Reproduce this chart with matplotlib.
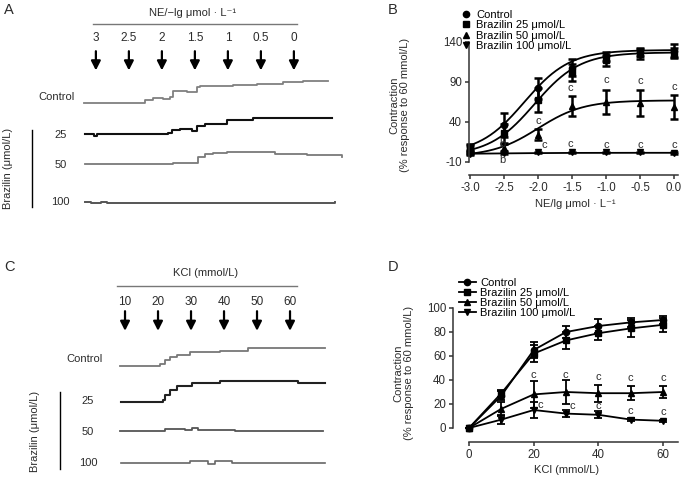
import numpy as np
import matplotlib
matplotlib.use('Agg')
import matplotlib.pyplot as plt
from matplotlib.lines import Line2D

plt.rcParams['font.family'] = ['Liberation Sans', 'DejaVu Sans']
plt.rcParams['axes.unicode_minus'] = False

TXT = '#2b2b2b'
FS = 8

# ---------------- Panel A: NE isometric tension traces ----------------
# time in min, tension in arbitrary units (relative to each trace's baseline)
ne_doses = ['3', '2.5', '2', '1.5', '1', '0.5', '0']
ne_dose_times = [1.8, 6.8, 11.8, 16.8, 21.8, 26.8, 31.8]

a_ctrl_t = [0, 9.2, 10.5, 12.0, 13.0, 13.5, 15.6, 17.1, 17.6, 22.6, 26.2, 30.2, 33.2, 37.0]
a_ctrl_v = [0, 0.75, 1.25, 1.0, 1.5, 3.0, 2.75, 4.0, 4.25, 4.5, 4.75, 5.25, 5.5, 5.5]
a_25_t = [0.15, 1.5, 2.0, 12.7, 13.3, 14.5, 16.4, 17.1, 18.3, 21.7, 25.6, 37.6]
a_25_v = [0, -0.5, 0, 0.25, 1.0, 1.25, 0.75, 2.0, 2.5, 3.5, 4.0, 4.0]
a_50_t = [0.15, 13.5, 17.3, 18.3, 19.5, 21.7, 28.9, 33.2, 33.8, 39.1]
a_50_v = [0, 0.25, 1.75, 2.5, 2.75, 3.0, 2.5, 2.5, 2.25, 1.75]
a_100_t = [0.15, 1.0, 2.5, 3.5, 38.0]
a_100_v = [0, -0.25, 0, -0.2, 0]

# ---------------- Panel C: KCl isometric tension traces ----------------
kcl_doses = ['10', '20', '30', '40', '50', '60']
kcl_dose_times = [0.76, 5.76, 10.76, 15.76, 20.76, 25.76]

c_ctrl_t = [0, 6.06, 6.8, 7.6, 8.6, 10.6, 15.2, 19.4, 31.1]
c_ctrl_v = [0, 0.5, 1.5, 2.25, 2.75, 3.5, 3.75, 4.5, 4.5]
c_25_t = [0.15, 6.5, 6.8, 7.6, 8.6, 10.9, 15.2, 27.0, 31.1]
c_25_v = [0, 0.5, 1.75, 3.0, 4.0, 4.75, 5.25, 4.75, 4.75]
c_50_t = [0, 6.8, 9.8, 10.9, 11.8, 17.4, 30.8]
c_50_v = [0, 0.5, 0.25, 0.75, 0.25, 0, 0]
c_100_t = [0.15, 10.6, 13.3, 14.4, 17.0, 31.1]
c_100_v = [0, 0.5, -0.17, 0.5, 0, 0]

# ---------------- Panel B: NE concentration-response ----------------
ne_log = [-3.0, -2.5, -2.0, -1.5, -1.0, -0.5, 0.0]
b_ctrl = [9, 36, 82, 108, 122, 128, 129]
b_ctrl_err = [4, 15, 13, 11, 6, 5, 8]
b_25 = [7, 26, 68, 102, 117, 125, 126]
b_25_err = [4, 12, 15, 11, 7, 6, 6]
b_50 = [2, 8, 24, 60, 65, 64, 59]
b_50_err = [2, 4, 7, 12, 15, 16, 15]
b_100 = [0, 1, 2, 2, 2, 2, 1]
b_100_err = [1, 1, 1, 1, 1, 1, 1]
# fitted sigmoid parameters: bottom, top, logEC50, hill slope
b_fit_ctrl = [0, 130, -2.2, 1.3]
b_fit_25 = [-2, 127, -2.05, 1.3]
b_fit_50 = [-3, 67, -2.0, 1.3]
b_fit_100 = [0, 1.5, -2.5, 1.0]
b_sig_x = [-2.0, -1.91, -1.52, -1.52, -1.0, -1.0, -0.5, -0.5, 0.0, 0.0, -2.53, -2.53]
b_sig_y = [41, 11, 82, 13, 92, 11, 91, 11, 84, 11, -8, 13]
b_sig_t = ['c', 'c', 'c', 'c', 'c', 'c', 'c', 'c', 'c', 'c', 'b', 'b']

# ---------------- Panel D: KCl concentration-response ----------------
kcl = [0, 10, 20, 30, 40, 50, 60]
d_ctrl = [0, 27, 65, 80, 85, 88, 90]
d_ctrl_err = [0, 4, 7, 5, 6, 4, 3]
d_25 = [0, 29, 62, 73, 79, 83, 86]
d_25_err = [0, 3, 7, 7, 6, 7, 6]
d_50 = [0, 16, 28, 30, 29, 29, 30]
d_50_err = [0, 6, 11, 10, 7, 6, 5]
d_100 = [0, 7, 15, 12, 11, 7, 6]
d_100_err = [0, 4, 7, 3, 3, 1, 1]
d_sig_x = [19.9, 21.9, 29.8, 32.0, 39.9, 39.9, 49.9, 49.9, 60, 60]
d_sig_y = [44, 19.4, 44.4, 18, 42.5, 18, 41.7, 13.9, 41.7, 13]

series_labels = ['Control', 'Brazilin 25 \u03bcmol/L', 'Brazilin 50 \u03bcmol/L', 'Brazilin 100 \u03bcmol/L']
markers = ['o', 's', '^', 'v']

W, H = 685, 480
fig = plt.figure(figsize=(W / 100, H / 100), dpi=100)


def fig_box(x0, y0, x1, y1):
    # pixel box (top-left origin) -> figure fraction rect
    return [x0 / W, 1 - y1 / H, (x1 - x0) / W, (y1 - y0) / H]


def trace_panel(rect, xlim, letter, title, doses, dose_times, rows, layout):
    ax = fig.add_axes(rect)
    ax.set_xlim(*xlim)
    ax.set_ylim(0, 60)
    ax.axis('off')
    for t, v, base, color, lw in rows:
        ax.plot(t, np.array(v) + base, drawstyle='steps-post', color=color, lw=lw)
    L = layout
    ax.text(0.012, L['letter_y'], letter, transform=ax.transAxes, fontsize=10.5,
            color=TXT, ha='left', va='center')
    ax.text(L['title_x'], L['title_y'], title, fontsize=FS, color=TXT,
            ha='center', va='center')
    ax.plot(L['rule_x'], [L['rule_y']] * 2, color='#777777', lw=1)
    for d, t in zip(doses, dose_times):
        ax.text(t, L['dose_y'], d, fontsize=8.5, color=TXT, ha='center', va='center')
        ax.annotate('', xy=(t, L['arr_y'][1]), xytext=(t, L['arr_y'][0]),
                    arrowprops=dict(arrowstyle='-|>,head_width=0.28,head_length=0.55',
                                    color='black', lw=1.6, shrinkA=0, shrinkB=0))
    ax.text(L['ctrl_x'], L['ctrl_y'], 'Control', fontsize=FS, color=TXT,
            ha='right', va='center')
    for lab, y in zip(['25', '50', '100'], L['conc_y']):
        ax.text(L['conc_x'], y, lab, fontsize=FS, color=TXT, ha='center', va='center')
    ax.plot([L['bar_x']] * 2, L['bar_y'], color='black', lw=1)
    ax.text(L['braz_x'], L['braz_y'], 'Brazilin (\u03bcmol/L)', fontsize=FS,
            color=TXT, rotation=90, ha='center', va='center')
    return ax


# Panel A
trace_panel(fig_box(0, 0, 345, 240), (-84 / 6.6, 261 / 6.6), 'A',
            'NE/\u2212lg \u03bcmol \u00b7 L\u207b\u00b9', ne_doses, ne_dose_times,
            [(a_ctrl_t, a_ctrl_v, 34.25, '#808080', 1.3),
             (a_25_t, a_25_v, 26.5, '#111111', 1.5),
             (a_50_t, a_50_v, 19.0, '#7a7a7a', 1.3),
             (a_100_t, a_100_v, 9.5, '#555555', 1.4)],
            dict(letter_y=1 - 10 / 240, title_x=16.4, title_y=56.75,
                 rule_x=[1.36, 32.3], rule_y=54, dose_y=50.5, arr_y=(47.2, 42.4),
                 ctrl_x=-1.36, ctrl_y=35.75, conc_x=-3.6, conc_y=[26.25, 18.75, 9.5],
                 bar_x=-7.9, bar_y=[27.5, 8.25], braz_x=-11.5, braz_y=18))

# Panel C
trace_panel(fig_box(0, 240, 345, 480), (-120 / 6.6, 225 / 6.6), 'C',
            'KCl (mmol/L)', kcl_doses, kcl_dose_times,
            [(c_ctrl_t, c_ctrl_v, 28.5, '#777777', 1.3),
             (c_25_t, c_25_v, 19.5, '#222222', 1.5),
             (c_50_t, c_50_v, 12.25, '#555555', 1.3),
             (c_100_t, c_100_v, 4.2, '#666666', 1.2)],
            dict(letter_y=1 - 27 / 240, title_x=12.9, title_y=51.75,
                 rule_x=[-0.45, 26.8], rule_y=48.5, dose_y=44.5, arr_y=(42.2, 37.3),
                 ctrl_x=-2.6, ctrl_y=30.25, conc_x=-4.85, conc_y=[19.75, 12.0, 4.25],
                 bar_x=-9.1, bar_y=[22, 2.75], braz_x=-12.9, braz_y=12.25))


def style_axes(ax, bottom_offset):
    for s in ['top', 'right']:
        ax.spines[s].set_visible(False)
    for s in ['left', 'bottom']:
        ax.spines[s].set_linewidth(1.1)
        ax.spines[s].set_color('#333333')
    ax.spines['bottom'].set_position(('outward', bottom_offset))
    ax.tick_params(direction='out', length=3, width=1.1, color='#333333',
                   labelsize=8.3, labelcolor=TXT, pad=2)


def sigmoid(x, p):
    bottom, top, ec50, hill = p
    return bottom + (top - bottom) / (1 + 10 ** ((ec50 - x) * hill))


# Panel B
axb = fig.add_axes(fig_box(469, 42, 678, 162))
style_axes(axb, 9.4)
axb.set_xlim(-3.015, 0.06)
axb.set_ylim(-10, 140)
axb.spines['left'].set_bounds(-10, 140)
axb.set_yticks([-10, 40, 90, 140])
axb.set_xticks(ne_log)
axb.set_xticklabels([f'{v:.1f}' for v in ne_log])
xs = np.linspace(-3.0, 0.0, 200)
for vals, err, fit, m in zip([b_ctrl, b_25, b_50, b_100],
                             [b_ctrl_err, b_25_err, b_50_err, b_100_err],
                             [b_fit_ctrl, b_fit_25, b_fit_50, b_fit_100], markers):
    axb.plot(xs, sigmoid(xs, fit), color='black', lw=1.3, clip_on=False)
    axb.errorbar(ne_log, vals, yerr=err, fmt=m, color='black', ms=4.5,
                 elinewidth=1.8, capsize=2.8, capthick=1.8, clip_on=False)
for x, y, t in zip(b_sig_x, b_sig_y, b_sig_t):
    axb.text(x, y, t, fontsize=FS, color=TXT, ha='center', va='center')
hb = [Line2D([], [], marker=m, ls='none', color='black', ms=4.5) for m in markers]
fig.legend(hb, series_labels, loc='upper left', bbox_to_anchor=(462 / W, 1 - 9.5 / H),
           frameon=False, fontsize=FS, handlelength=0.8, handletextpad=0.5,
           labelspacing=0.05, borderpad=0, borderaxespad=0)
fig.text(400 / W, 1 - 105 / H, 'Contraction\n(% response to 60 mmol/L)', rotation=90,
         fontsize=FS, color=TXT, ha='center', va='center', multialignment='center',
         linespacing=1.1)
fig.text(575 / W, 1 - 204 / H, 'NE/lg \u03bcmol \u00b7 L\u207b\u00b9', fontsize=FS,
         color=TXT, ha='center', va='center')
fig.text(393 / W, 1 - 10 / H, 'B', fontsize=10.5, color=TXT, ha='center', va='center')

# Panel D
axd = fig.add_axes(fig_box(453, 308, 678, 428))
style_axes(axd, 10)
axd.set_xlim(-4.95, 64.6)
axd.set_ylim(0, 100)
axd.spines['left'].set_bounds(0, 100)
axd.spines['bottom'].set_bounds(0, 64.6)
axd.set_yticks([0, 20, 40, 60, 80, 100])
axd.set_xticks([0, 20, 40, 60])
for vals, err, m in zip([d_ctrl, d_25, d_50, d_100],
                        [d_ctrl_err, d_25_err, d_50_err, d_100_err], markers):
    axd.errorbar(kcl, vals, yerr=err, fmt=m + '-', color='black', ms=4.5, lw=1.3,
                 elinewidth=1.3, capsize=3, capthick=1.3, clip_on=False)
for x, y in zip(d_sig_x, d_sig_y):
    axd.text(x, y, 'c', fontsize=FS, color=TXT, ha='center', va='center')
hd = [Line2D([], [], marker=m, ls='-', lw=1.3, color='black', ms=4.5) for m in markers]
fig.legend(hd, series_labels, loc='upper left', bbox_to_anchor=(459 / W, 1 - 278 / H),
           frameon=False, fontsize=FS, handlelength=1.5, handletextpad=0.4,
           labelspacing=0.0, borderpad=0, borderaxespad=0)
fig.text(404 / W, 1 - 373 / H, 'Contraction\n(% response to 60 mmol/L)', rotation=90,
         fontsize=FS, color=TXT, ha='center', va='center', multialignment='center',
         linespacing=1.1)
fig.text(567 / W, 1 - 470 / H, 'KCl (mmol/L)', fontsize=FS, color=TXT,
         ha='center', va='center')
fig.text(393 / W, 1 - 267 / H, 'D', fontsize=10.5, color=TXT, ha='center', va='center')

fig.savefig('out.png', dpi=100, facecolor='white')
plt.close(fig)
